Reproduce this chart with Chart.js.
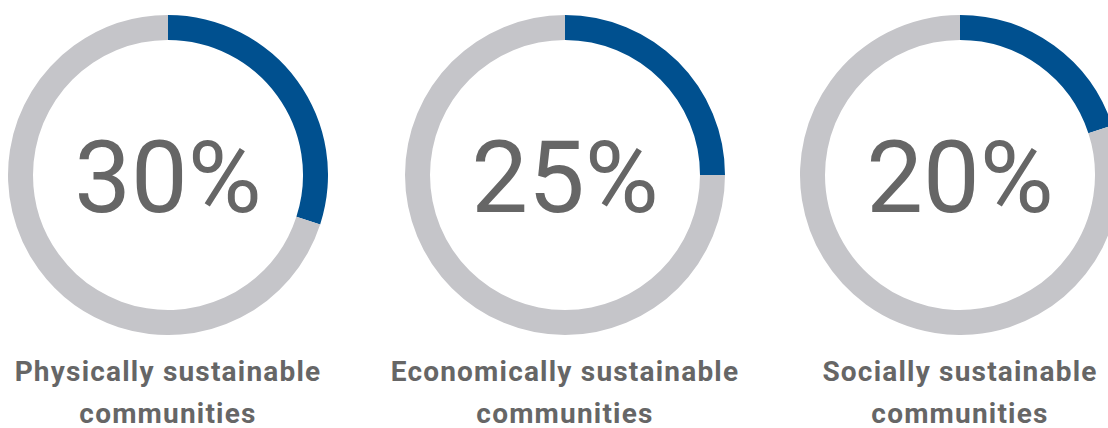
<!DOCTYPE html>
<html>
<head>
<meta charset="utf-8">
<script src="https://cdn.jsdelivr.net/npm/chart.js@4"></script>
<style>
  html, body {
    margin: 0;
    padding: 0;
    background: #fff;
    width: 1108px;
    height: 428px;
    overflow: hidden;
    position: relative;
    font-family: Roboto, "Noto Sans", sans-serif;
  }
  .ring {
    position: absolute;
    top: 15px;
    width: 320px;
    height: 320px;
  }
  .pct {
    position: absolute;
    top: 127px;
    width: 400px;
    text-align: center;
    font-size: 101px;
    line-height: 1;
    font-weight: 400;
    color: #666;
  }
  .label {
    position: absolute;
    top: 351px;
    width: 420px;
    text-align: center;
    font-size: 28px;
    font-weight: 700;
    letter-spacing: 1.2px;
    line-height: 42px;
    color: #666;
  }
</style>
</head>
<body>
<script>
// data
const categories = ["Physically sustainable", "Economically sustainable", "Socially sustainable"];
const percents = [30, 25, 20];
const centers = [168, 565, 960]; // x centre of each ring

const blue = "#00508f";
const grey = "#c5c5c9";

categories.forEach((name, i) => {
  const cx = centers[i];

  const wrap = document.createElement("div");
  wrap.className = "ring";
  wrap.style.left = (cx - 160) + "px";
  const canvas = document.createElement("canvas");
  wrap.appendChild(canvas);
  document.body.appendChild(wrap);

  const pct = document.createElement("div");
  pct.className = "pct";
  pct.style.left = (cx - 200) + "px";
  pct.textContent = percents[i] + "%";
  document.body.appendChild(pct);

  const label = document.createElement("div");
  label.className = "label";
  label.style.left = (cx - 210) + "px";
  label.innerHTML = name + "<br>communities";
  document.body.appendChild(label);

  new Chart(canvas.getContext("2d"), {
    type: "doughnut",
    data: {
      labels: [name, "Other"],
      datasets: [{
        data: [percents[i], 100 - percents[i]],
        backgroundColor: [blue, grey],
        borderWidth: 0
      }]
    },
    options: {
      responsive: true,
      maintainAspectRatio: false,
      animation: false,
      cutout: 135,
      events: [],
      layout: { padding: 0 },
      plugins: {
        legend: { display: false },
        tooltip: { enabled: false }
      }
    }
  });
});
</script>
</body>
</html>
